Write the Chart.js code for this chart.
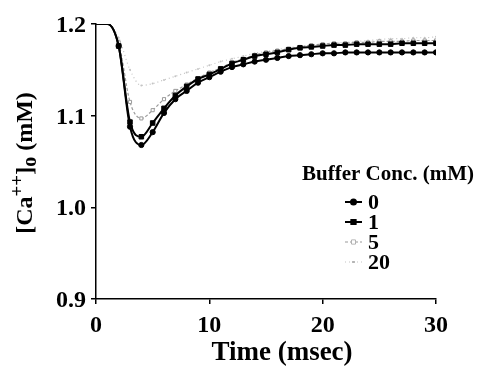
<!DOCTYPE html>
<html>
<head>
<meta charset="utf-8">
<script src="https://cdn.jsdelivr.net/npm/chart.js@4.4.1/dist/chart.umd.min.js"></script>
<style>
  html, body { margin: 0; padding: 0; background: #fff; }
  #wrap { width: 484px; height: 369px; }
</style>
</head>
<body>
<div id="wrap"><canvas id="caChart" width="484" height="369"></canvas></div>
<script>
var timeMs = [0,1,2,3,4,5,6,7,8,9,10,11,12,13,14,15,16,17,18,19,20,21,22,23,24,25,26,27,28,29,30];
var buf0  = [1.200,1.200,1.176,1.088,1.068,1.082,1.103,1.118,1.127,1.136,1.142,1.148,1.153,1.156,1.159,1.161,1.163,1.165,1.166,1.167,1.168,1.168,1.169,1.169,1.169,1.169,1.169,1.169,1.169,1.169,1.169];
var buf1  = [1.200,1.200,1.176,1.093,1.077,1.092,1.108,1.122,1.132,1.140,1.145,1.151,1.157,1.161,1.165,1.167,1.169,1.172,1.174,1.175,1.176,1.177,1.177,1.178,1.178,1.178,1.178,1.179,1.179,1.179,1.179];
var buf5  = [1.200,1.200,1.180,1.115,1.097,1.106,1.118,1.127,1.134,1.141,1.147,1.152,1.158,1.162,1.166,1.169,1.171,1.173,1.175,1.177,1.178,1.179,1.179,1.180,1.180,1.181,1.181,1.181,1.182,1.182,1.182];
var buf20 = [1.200,1.200,1.185,1.150,1.133,1.135,1.139,1.143,1.147,1.151,1.155,1.159,1.162,1.165,1.168,1.170,1.172,1.174,1.176,1.177,1.178,1.179,1.180,1.181,1.182,1.183,1.184,1.184,1.185,1.185,1.186];
var bufLabels = ["0", "1", "5", "20"];
var yTicks = [0.9, 1.0, 1.1, 1.2];
var xTicks = [0, 10, 20, 30];

var serif = "'Liberation Serif', 'DejaVu Serif', serif";

function pts(arr) {
  return timeMs.map(function(t, i) { return {x: t, y: arr[i]}; });
}
// markers only from 2 msec on, like the figure
function rad(r) {
  return function(ctx) { return ctx.dataIndex < 2 ? 0 : r; };
}

var series = [
  {label: bufLabels[0], data: pts(buf0), borderColor: "#000", backgroundColor: "#000",
   borderWidth: 2, pointStyle: "circle", pointRadius: rad(2.6), pointBorderWidth: 1, borderDash: []},
  {label: bufLabels[1], data: pts(buf1), borderColor: "#000", backgroundColor: "#000",
   borderWidth: 2, pointStyle: "rect", pointRadius: rad(3.2), pointBorderWidth: 1, borderDash: []},
  {label: bufLabels[2], data: pts(buf5), borderColor: "#9a9a9a", backgroundColor: "#fff",
   borderWidth: 1.2, pointStyle: "rect", pointRadius: rad(2.2), pointBorderWidth: 1, borderDash: [3, 2]},
  {label: bufLabels[3], data: pts(buf20), borderColor: "#c4c4c4", backgroundColor: "#c4c4c4",
   borderWidth: 1.2, pointStyle: "circle", pointRadius: rad(1), pointBorderWidth: 0, borderDash: [1, 3]}
];
series.forEach(function(s) {
  s.fill = false;
  s.cubicInterpolationMode = "monotone";
  s.pointBorderColor = s.borderColor;
});

// tick labels and axis titles, placed from the scales
var textPlugin = {
  id: "axisText",
  afterDraw: function(chart) {
    var c = chart.ctx;
    var xs = chart.scales.x, ys = chart.scales.y;
    c.save();
    c.fillStyle = "#000";
    c.textBaseline = "alphabetic";
    c.font = "bold 24px " + serif;
    c.textAlign = "center";
    xTicks.forEach(function(v) { c.fillText(String(v), xs.getPixelForValue(v), 332); });
    c.textAlign = "right";
    yTicks.forEach(function(v) { c.fillText(v.toFixed(1), 86, ys.getPixelForValue(v) + 8); });
    c.textAlign = "center";
    c.font = "bold 27px " + serif;
    c.fillText("Time (msec)", 282, 360);

    // y title with super/subscripts
    var parts = [
      {t: "[Ca", size: 24, dy: 0},
      {t: "++", size: 19, dy: -8},
      {t: "]", size: 24, dy: 0},
      {t: "o", size: 20, dy: 5},
      {t: " (mM)", size: 24, dy: 0}
    ];
    var total = 0;
    parts.forEach(function(p) {
      c.font = "bold " + p.size + "px " + serif;
      p.w = c.measureText(p.t).width;
      total += p.w;
    });
    c.translate(26, 163);
    c.rotate(-Math.PI / 2);
    c.textAlign = "left";
    c.textBaseline = "middle";
    var x = -total / 2;
    parts.forEach(function(p) {
      c.font = "bold " + p.size + "px " + serif;
      c.fillText(p.t, x, p.dy);
      x += p.w;
    });
    c.restore();
  }
};

// legend drawn inside the plot, lower right
var legendPlugin = {
  id: "innerLegend",
  afterDraw: function(chart) {
    var c = chart.ctx;
    c.save();
    c.fillStyle = "#000";
    c.textBaseline = "middle";
    c.font = "bold 21px " + serif;
    c.fillText("Buffer Conc. (mM)", 302, 175);
    var rowY = [202, 222, 242, 262];
    chart.data.datasets.forEach(function(ds, i) {
      var y = rowY[i];
      c.save();
      c.strokeStyle = ds.borderColor;
      c.lineWidth = ds.borderWidth;
      c.setLineDash(ds.borderDash);
      c.beginPath();
      c.moveTo(345, y);
      c.lineTo(362, y);
      c.stroke();
      c.setLineDash([]);
      var r = i === 3 ? 1 : (i === 1 ? 3 : 2.5);
      Chart.helpers.drawPoint(c, {pointStyle: ds.pointStyle, radius: r, borderWidth: ds.pointBorderWidth}, 353.5, y);
      c.fillStyle = ds.backgroundColor;
      c.strokeStyle = ds.borderColor;
      c.lineWidth = ds.pointBorderWidth || 0.01;
      if (ds.pointBorderWidth) { c.stroke(); }
      c.fill();
      c.restore();
      c.fillStyle = "#000";
      c.font = "bold 22px " + serif;
      c.fillText(ds.label, 368, y + 1);
    });
    c.restore();
  }
};

var chart = new Chart("caChart", {
  type: "line",
  data: {datasets: series},
  options: {
    responsive: false,
    animation: false,
    layout: {padding: {left: 40, right: 48, top: 24, bottom: 0}},
    plugins: {legend: {display: false}, tooltip: {enabled: false}},
    scales: {
      x: {
        type: "linear", min: 0, max: 30,
        afterBuildTicks: function(s) { s.ticks = xTicks.map(function(v) { return {value: v}; }); },
        afterFit: function(s) { s.height = 70; },
        grid: {display: true, drawOnChartArea: false, drawTicks: true, tickLength: 5, color: "#000", lineWidth: 1.5},
        border: {display: true, color: "#000", width: 1.5},
        ticks: {display: false}
      },
      y: {
        min: 0.9, max: 1.2,
        afterBuildTicks: function(s) { s.ticks = yTicks.map(function(v) { return {value: v}; }); },
        afterFit: function(s) { s.width = 56; },
        grid: {display: true, drawOnChartArea: false, drawTicks: true, tickLength: 5, color: "#000", lineWidth: 1.5},
        border: {display: true, color: "#000", width: 1.5},
        ticks: {display: false}
      }
    }
  },
  plugins: [textPlugin, legendPlugin]
});
</script>
</body>
</html>
